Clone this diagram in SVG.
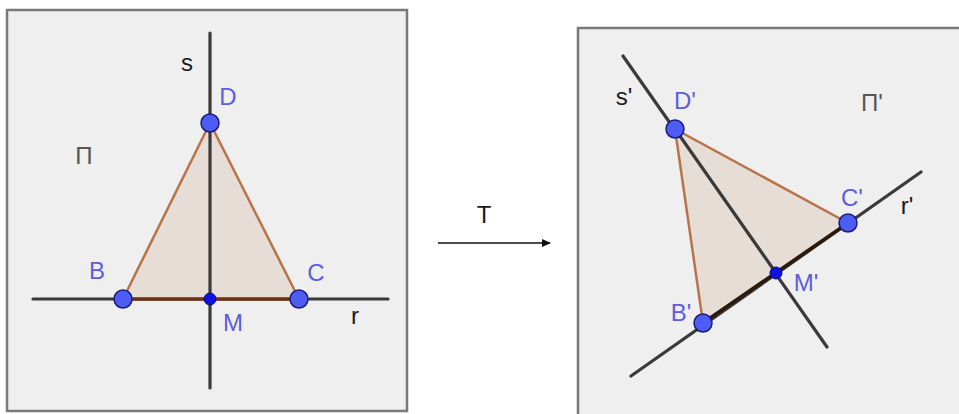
<svg xmlns="http://www.w3.org/2000/svg" width="959" height="414" viewBox="0 0 959 414">
<style>
.panel{fill:#efefef;stroke:#7a7a7a;stroke-width:2.5}
.line{stroke:#3a3a3a;stroke-width:3.2;stroke-linecap:round}
.tri{fill:#e6ddd6;stroke:#b8734a;stroke-width:2.5;stroke-linejoin:round}
.pt{fill:#4d5cf2;stroke:#1a1a80;stroke-width:1.5}
.mid{fill:#1010e0;stroke:#0a0a70;stroke-width:1}
.lb{font-family:"Liberation Sans",Arial,sans-serif;font-size:24px;fill:#5d5de0}
.lk{font-family:"Liberation Sans",Arial,sans-serif;font-size:24px;fill:#1a1a1a}
.lg{font-family:"Liberation Sans",Arial,sans-serif;font-size:24px;fill:#555555}
</style>
<defs>
<marker id="ah" markerWidth="10" markerHeight="10" refX="8" refY="5" orient="auto" markerUnits="userSpaceOnUse">
<path d="M0,1 L9,5 L0,9 Z" fill="#111"/>
</marker>
</defs>
<rect width="959" height="414" fill="#ffffff"/>
<g id="panel-left">
<rect class="panel" x="7" y="10" width="400" height="401"/>
<text class="lg" x="84" y="164" text-anchor="middle">Π</text>
</g>
<g id="panel-right">
<rect class="panel" x="578" y="28" width="395" height="400"/>
<text class="lg" x="872" y="111" text-anchor="middle">Π'</text>
</g>
<g id="connectors">
<line class="line" x1="210" y1="33" x2="210" y2="388"/>
<line class="line" x1="33" y1="299" x2="388" y2="299"/>
<line class="line" x1="623" y1="56" x2="827" y2="347"/>
<line class="line" x1="631" y1="376" x2="921" y2="172"/>
<line x1="438" y1="243" x2="550" y2="243" stroke="#111" stroke-width="1.5" marker-end="url(#ah)"/>
<text class="lk" x="484" y="223" text-anchor="middle" font-size="29">T</text>
</g>
<g id="triangle-left">
<polygon class="tri" points="210,123 123,299 299,299"/>
<line class="line" x1="210" y1="123" x2="210" y2="299"/>
<line x1="123" y1="299" x2="299" y2="299" stroke="#6a3414" stroke-width="3.5"/>
</g>
<g id="triangle-right">
<polygon class="tri" points="675,129 848,223 703,323"/>
<line class="line" x1="675" y1="129" x2="776" y2="273"/>
<line x1="703" y1="323" x2="848" y2="223" stroke="#2a1a0e" stroke-width="3.5"/>
</g>
<g id="line-s"><text class="lk" x="187" y="71" text-anchor="middle">s</text></g>
<g id="line-r"><text class="lk" x="355" y="324" text-anchor="middle">r</text></g>
<g id="node-D"><circle class="pt" cx="210" cy="123" r="9"/><text class="lb" x="228" y="105" text-anchor="middle">D</text></g>
<g id="node-B"><circle class="pt" cx="123" cy="299" r="9"/><text class="lb" x="97" y="279" text-anchor="middle">B</text></g>
<g id="node-C"><circle class="pt" cx="299" cy="299" r="9"/><text class="lb" x="316" y="281" text-anchor="middle">C</text></g>
<g id="node-M"><circle class="mid" cx="210" cy="299" r="6"/><text class="lb" x="233" y="331" text-anchor="middle">M</text></g>
<g id="line-s2"><text class="lk" x="624" y="105" text-anchor="middle">s'</text></g>
<g id="line-r2"><text class="lk" x="907" y="214" text-anchor="middle">r'</text></g>
<g id="node-D2"><circle class="pt" cx="675" cy="129" r="9"/><text class="lb" x="685" y="109" text-anchor="middle">D'</text></g>
<g id="node-C2"><circle class="pt" cx="848" cy="223" r="9"/><text class="lb" x="852" y="206" text-anchor="middle">C'</text></g>
<g id="node-B2"><circle class="pt" cx="703" cy="323" r="9"/><text class="lb" x="681" y="321" text-anchor="middle">B'</text></g>
<g id="node-M2"><circle class="mid" cx="776" cy="273" r="6"/><text class="lb" x="806" y="291" text-anchor="middle">M'</text></g>
</svg>
